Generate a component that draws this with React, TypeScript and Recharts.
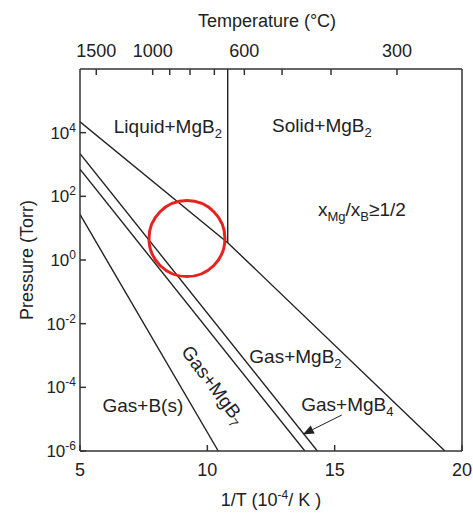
import React from "react";
import { LineChart, Line, XAxis, YAxis, ReferenceDot, ReferenceLine } from "recharts";

const FONT = '"Liberation Sans", Arial, Helvetica, sans-serif';
const INK = "#222";
const AXIS = "#333";

// bottom axis: 1/T in 10^-4 / K
const xTicks = [5, 10, 15, 20];
// left axis: pressure in Torr (log)
const pressureTicks = [1e-6, 1e-4, 1e-2, 1, 1e2, 1e4];
// top axis: temperature in degC
const tempTicks = [1500, 1000, 900, 800, 700, 600, 500, 400, 300];
const tempLabels = [1500, 1000, 600, 300];

// phase boundaries (1/T, pressure in Torr)
const mgX = [5, 10.8, 19.33];
const mgP = [2.2e4, 3.5, 1e-6];
const mgb4X = [5, 14.32];
const mgb4P = [2.2e3, 1e-6];
const mgb7X = [5, 13.83];
const mgb7P = [7.1e2, 1e-6];
const boronX = [5, 10.43];
const boronP = [27, 1e-6];
const meltX = [10.8, 10.8];
const meltP = [3.5, 1e6];

const pts = (xs: number[], ps: number[]) => xs.map((x, i) => ({ x, p: ps[i] }));
const invT = (c: number) => 1e4 / (c + 273.15);

// region labels, anchored at text baseline centre
const regions = [
  { main: "Liquid+MgB", sub: "2", x: 8.45, logP: 3.99 },
  { main: "Solid+MgB", sub: "2", x: 14.5, logP: 4.02 },
  { main: "Gas+MgB", sub: "2", x: 13.46, logP: -3.24 },
  { main: "Gas+MgB", sub: "4", x: 15.5, logP: -4.74 },
  { main: "Gas+B(s)", sub: "", x: 7.47, logP: -4.78 },
];

function BottomTick({ x, y, payload }: any) {
  return (
    <text x={x} y={y + 31} textAnchor="middle" fontSize={18} fill={INK} fontFamily={FONT}>
      {payload.value}
    </text>
  );
}

function TopTick({ x, y, payload }: any) {
  const c = Math.round(1e4 / payload.value - 273.15);
  if (!tempLabels.includes(c)) return <g />;
  return (
    <text x={x} y={y - 18} textAnchor="middle" fontSize={18} fill={INK} fontFamily={FONT}>
      {c}
    </text>
  );
}

function PressureTick({ x, y, payload }: any) {
  const e = Math.round(Math.log10(payload.value));
  return (
    <text x={x - 10} y={y + 6} textAnchor="end" fontSize={17} fill={INK} fontFamily={FONT}>
      10<tspan dy={-7} fontSize={12}>{e}</tspan>
    </text>
  );
}

function ArrowShape({ x1, y1, x2, y2 }: any) {
  const dx = x2 - x1;
  const dy = y2 - y1;
  const len = Math.sqrt(dx * dx + dy * dy);
  const ux = dx / len;
  const uy = dy / len;
  const bx = x2 - ux * 11;
  const by = y2 - uy * 11;
  return (
    <g>
      <line x1={x1} y1={y1} x2={bx} y2={by} stroke={INK} strokeWidth={1} />
      <polygon
        points={`${x2},${y2} ${bx - uy * 4.5},${by + ux * 4.5} ${bx + uy * 4.5},${by - ux * 4.5}`}
        fill={INK}
      />
    </g>
  );
}

export default function App() {
  const line = (xs: number[], ps: number[], key: string) => (
    <Line
      key={key}
      data={pts(xs, ps)}
      dataKey="p"
      type="linear"
      stroke={INK}
      strokeWidth={1.4}
      dot={false}
      activeDot={false}
      isAnimationActive={false}
    />
  );

  return (
    <div style={{ position: "absolute", left: 0, top: 0, width: 473, height: 513, background: "#fff" }}>
      <LineChart width={473} height={513} margin={{ top: 29, right: 6, bottom: 12, left: 20 }}>
        <XAxis
          dataKey="x"
          type="number"
          domain={[5, 20]}
          ticks={xTicks}
          interval={0}
          allowDataOverflow
          height={50}
          tickSize={-6}
          tickMargin={0}
          tick={<BottomTick />}
          stroke={AXIS}
          strokeWidth={1.5}
        />
        <XAxis
          xAxisId="top"
          orientation="top"
          dataKey="x"
          type="number"
          domain={[5, 20]}
          ticks={tempTicks.map(invT)}
          interval={0}
          allowDataOverflow
          height={40}
          tickSize={-6}
          tickMargin={0}
          tick={<TopTick />}
          stroke={AXIS}
          strokeWidth={1.5}
        />
        <YAxis
          type="number"
          scale="log"
          domain={[1e-6, 1e6]}
          ticks={pressureTicks}
          interval={0}
          allowDataOverflow
          width={60}
          tickSize={-6}
          tickMargin={0}
          tick={<PressureTick />}
          stroke={AXIS}
          strokeWidth={1.5}
        />
        <YAxis
          yAxisId="right"
          orientation="right"
          type="number"
          scale="log"
          domain={[1e-6, 1e6]}
          ticks={pressureTicks}
          interval={0}
          allowDataOverflow
          width={5}
          tickSize={-6}
          tickMargin={0}
          tick={false}
          stroke={AXIS}
          strokeWidth={1.5}
        />
        {line(mgX, mgP, "mg")}
        {line(mgb4X, mgb4P, "mgb4")}
        {line(mgb7X, mgb7P, "mgb7")}
        {line(boronX, boronP, "boron")}
        {line(meltX, meltP, "melt")}

        {regions.map((r, i) => (
          <ReferenceDot
            key={`reg-${i}`}
            x={r.x}
            y={Math.pow(10, r.logP)}
            r={0}
            shape={(p: any) => (
              <text x={p.cx} y={p.cy} textAnchor="middle" fontSize={19} fill={INK} fontFamily={FONT}>
                {r.main}
                {r.sub && (
                  <tspan dy={5} fontSize={13}>
                    {r.sub}
                  </tspan>
                )}
              </text>
            )}
          />
        ))}

        <ReferenceDot
          x={16.07}
          y={Math.pow(10, 1.38)}
          r={0}
          shape={(p: any) => (
            <text x={p.cx} y={p.cy} textAnchor="middle" fontSize={19} fill={INK} fontFamily={FONT}>
              x<tspan dy={5} fontSize={13}>Mg</tspan>
              <tspan dy={-5}>/x</tspan>
              <tspan dy={5} fontSize={13}>B</tspan>
              <tspan dy={-5}>≥1/2</tspan>
            </text>
          )}
        />

        <ReferenceDot
          x={10.22}
          y={Math.pow(10, -3.93)}
          r={0}
          shape={(p: any) => (
            <text
              x={p.cx}
              y={p.cy + 6}
              textAnchor="middle"
              fontSize={19}
              fill={INK}
              fontFamily={FONT}
              transform={`rotate(53, ${p.cx}, ${p.cy})`}
            >
              Gas+MgB<tspan dy={5} fontSize={13}>7</tspan>
            </text>
          )}
        />

        <ReferenceLine
          segment={[
            { x: 15.28, y: Math.pow(10, -4.87) },
            { x: 13.75, y: Math.pow(10, -5.48) },
          ]}
          shape={<ArrowShape />}
        />

        <ReferenceDot x={9.2} y={4.7} r={38} fill="none" stroke="#e8231f" strokeWidth={3} />
      </LineChart>

      <svg
        width={473}
        height={513}
        style={{ position: "absolute", left: 0, top: 0, pointerEvents: "none" }}
        fontFamily={FONT}
        fill={INK}
      >
        <text x={267} y={27} textAnchor="middle" fontSize={18}>
          Temperature (°C)
        </text>
        <text x={271} y={506} textAnchor="middle" fontSize={18}>
          1/T (10<tspan dy={-7} fontSize={12}>-4</tspan>
          <tspan dy={7}>/ K )</tspan>
        </text>
        <text transform="translate(33, 260) rotate(-90)" textAnchor="middle" fontSize={18}>
          Pressure (Torr)
        </text>
      </svg>
    </div>
  );
}
